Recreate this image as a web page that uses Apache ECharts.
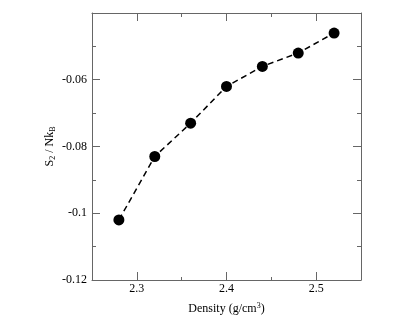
<!DOCTYPE html>
<html>
<head>
<meta charset="utf-8">
<script src="https://cdn.jsdelivr.net/npm/echarts@6/dist/echarts.min.js"></script>
<style>
  html, body { margin: 0; padding: 0; background: #fff; }
  #chart { width: 414px; height: 320px; }
</style>
</head>
<body>
<div id="chart"></div>
<script>
// density (g/cm^3) vs S2/NkB
const density = [2.28, 2.32, 2.36, 2.40, 2.44, 2.48, 2.52];
const s2 = [-0.102, -0.083, -0.073, -0.062, -0.056, -0.052, -0.046];

const xMajor = [2.3, 2.4, 2.5];
const xMinor = [2.35, 2.45];

const axisColor = '#666'
const font = 'Liberation Serif'
const gridRect = { left: 92, right: 53, top: 13, bottom: 39 }

const chart = echarts.init(document.getElementById('chart'));

// major ticks (grid 0) - with line and labels
function xAxisCfg(pos, showLabel) {
  return {
    type: 'value',
    gridIndex: 0,
    position: pos,
    min: 2.25,
    max: 2.55,
    axisLine: { show: true, onZero: false, lineStyle: { color: axisColor, width: 1 } },
    axisTick: { show: true, inside: true, length: 8, customValues: xMajor, lineStyle: { color: axisColor } },
    splitLine: { show: false },
    axisLabel: {
      show: showLabel,
      customValues: xMajor,
      color: '#000',
      fontFamily: font,
      fontSize: 12,
      margin: 3,
      formatter: v => v.toFixed(1)
    }
  }
}

// minor ticks only (grid 1, same rect)
function xMinorCfg(pos) {
  return {
    type: 'value',
    gridIndex: 1,
    position: pos,
    min: 2.25,
    max: 2.55,
    axisLine: { show: false },
    axisTick: { show: true, inside: true, length: 4, customValues: xMinor, lineStyle: { color: axisColor } },
    splitLine: { show: false },
    axisLabel: { show: false }
  }
}

function yAxisCfg(pos, showLabel) {
  return {
    type: 'value',
    gridIndex: 0,
    position: pos,
    min: -0.12,
    max: -0.04,
    interval: 0.02,
    axisLine: { show: true, onZero: false, lineStyle: { color: axisColor, width: 1 } },
    axisTick: { show: true, inside: true, length: 8, lineStyle: { color: axisColor } },
    minorTick: { show: true, splitNumber: 2, length: 4, lineStyle: { color: axisColor } },
    splitLine: { show: false },
    axisLabel: {
      show: showLabel,
      color: '#000',
      fontFamily: font,
      fontSize: 12,
      margin: 5,
      formatter: v => v > -0.05 ? '' : String(parseFloat(v.toFixed(3)))
    }
  }
}

let xMain = xAxisCfg('bottom', true)
xMain.name = '{a|Density (g/cm}{sup|3}{a|)}'
xMain.nameLocation = 'middle'
xMain.nameGap = 22
xMain.nameMoveOverlap = false
xMain.nameTextStyle = {
  rich: {
    a: { fontFamily: font, fontSize: 12, color: '#000' },
    sup: { fontFamily: font, fontSize: 8, color: '#000', verticalAlign: 'top', padding: [0, 0, 6, 0] }
  }
}

let yMain = yAxisCfg('left', true)
yMain.name = '{a|S}{sub|2}{a| / Nk}{sub|B}'
yMain.nameLocation = 'middle'
yMain.nameGap = 35
yMain.nameMoveOverlap = false
yMain.nameTextStyle = {
  rich: {
    a: { fontFamily: font, fontSize: 12, color: '#000' },
    sub: { fontFamily: font, fontSize: 8, color: '#000', verticalAlign: 'bottom', padding: [6, 0, 0, 0] }
  }
}

chart.setOption({
  backgroundColor: '#fff',
  animation: false,
  grid: [Object.assign({}, gridRect), Object.assign({}, gridRect)],
  xAxis: [xMain, xAxisCfg('top', false), xMinorCfg('bottom'), xMinorCfg('top')],
  yAxis: [
    yMain,
    yAxisCfg('right', false),
    { type: 'value', gridIndex: 1, min: -0.12, max: -0.04, show: false },
    { type: 'value', gridIndex: 1, min: -0.12, max: -0.04, show: false }
  ],
  series: [
    {
      type: 'line',
      xAxisIndex: 0,
      yAxisIndex: 0,
      data: density.map((d, i) => [d, s2[i]]),
      symbol: 'circle',
      symbolSize: 11,
      itemStyle: { color: '#000' },
      lineStyle: { color: '#000', width: 1.5, type: [6, 4] }
    }
  ]
});
</script>
</body>
</html>
